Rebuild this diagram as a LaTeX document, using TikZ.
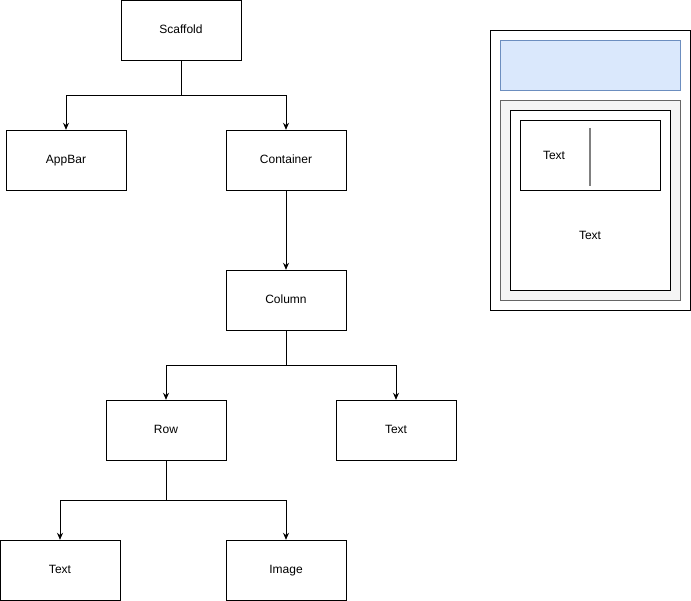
\documentclass[tikz,border=0pt]{standalone}
\usepackage{fontspec}
\setmainfont{Liberation Sans}
\usetikzlibrary{arrows.meta}
\begin{document}
\begin{tikzpicture}[x=1pt,y=-1pt,
  box/.style={draw,fill=white,minimum width=120pt,minimum height=60pt,inner sep=0pt,text height=8.6pt,text depth=2.5pt,font=\fontsize{12}{14}\selectfont},
  conn/.style={-{Stealth[length=7pt,width=6pt]},line width=0.8pt},
  lbl/.style={font=\fontsize{12}{14}\selectfont,inner sep=0pt}]
\useasboundingbox (0,0) rectangle (691,601);
\node[box] (scaffold) at (181,30) {Scaffold};
\node[box] (appbar) at (66,160) {AppBar};
\node[box] (container) at (286,160) {Container};
\node[box] (column) at (286,300) {Column};
\node[box] (row) at (166,430) {Row};
\node[box] (text1) at (396,430) {Text};
\node[box] (text2) at (60,570) {Text};
\node[box] (image) at (286,570) {Image};
\draw[conn] (scaffold.south) -- ++(0,35) -| (appbar.north);
\draw[conn] (scaffold.south) -- ++(0,35) -| (container.north);
\draw[conn] (container.south) -- (column.north);
\draw[conn] (column.south) -- ++(0,35) -| (row.north);
\draw[conn] (column.south) -- ++(0,35) -| (text1.north);
\draw[conn] (row.south) -- ++(0,40) -| (text2.north);
\draw[conn] (row.south) -- ++(0,40) -| (image.north);
% right panel
\draw[line width=0.8pt] (490,30) rectangle (690,310);
\draw[fill={rgb,255:red,218;green,232;blue,252},draw={rgb,255:red,108;green,142;blue,191},line width=0.8pt] (500,40) rectangle (680,90);
\draw[fill={rgb,255:red,245;green,245;blue,245},draw={rgb,255:red,102;green,102;blue,102},line width=0.8pt] (500,100) rectangle (680,300);
\draw[fill=white,line width=0.8pt] (510,110) rectangle (670,290);
\draw[line width=0.8pt] (520,120) rectangle (660,190);
\draw[draw={rgb,255:red,128;green,128;blue,128},line width=1.5pt] (590,128) -- (590,186);
\node[lbl] (t3) at (554,155) {Text};
\node[lbl] (t4) at (590,235) {Text};
\end{tikzpicture}
\end{document}
